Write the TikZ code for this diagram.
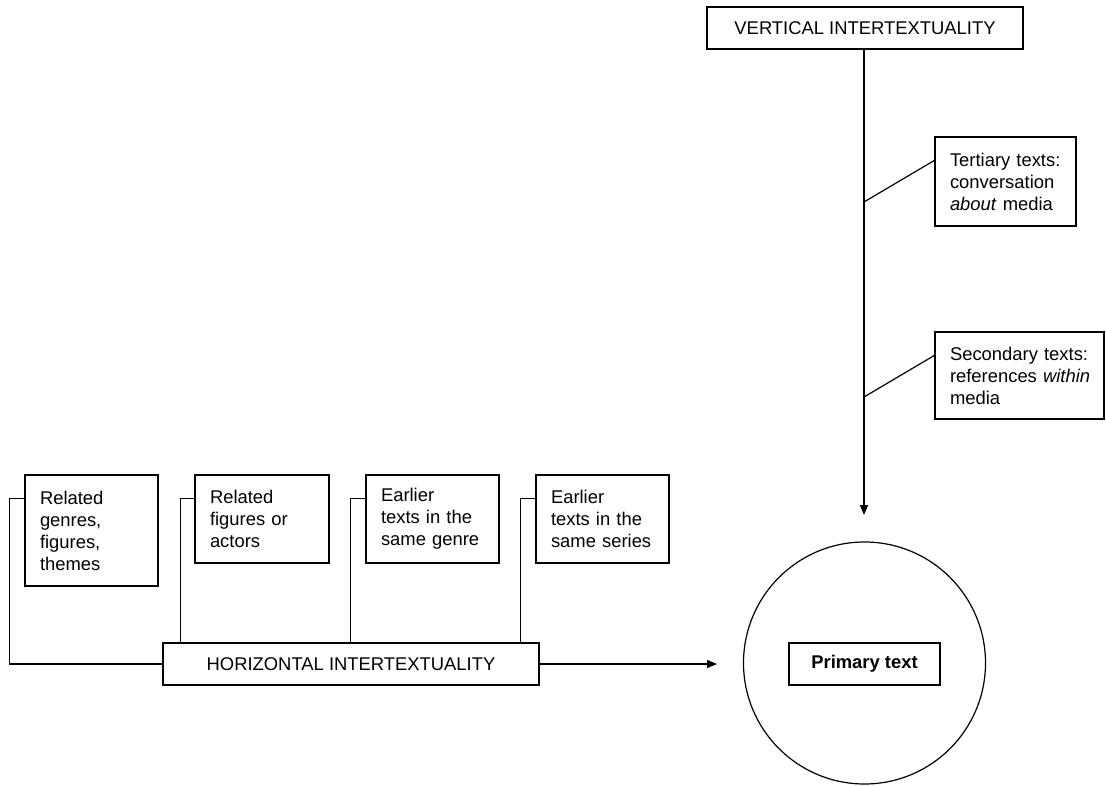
\documentclass[tikz,border=0pt]{standalone}
\usepackage{fontspec}
\setmainfont{Liberation Sans}
\usetikzlibrary{arrows.meta,calc}
\begin{document}
\begin{tikzpicture}[x=1pt,y=-1pt,line width=1.2pt,
  txt/.style={font=\fontsize{18.4}{22}\selectfont},
  sidebox/.style={draw,rectangle,txt,align=left,inner xsep=15pt,inner ysep=0pt},
  titlebox/.style={draw,rectangle,txt,align=center,inner sep=0pt},
  arr/.style={-{Triangle[length=10pt,width=8pt]}}]
\useasboundingbox (0,0) rectangle (1106,786);
% left boxes
\node[sidebox,text width=103pt,minimum height=111pt] (b1) at (91.5,530.5) {Related\\genres,\\figures,\\themes};
\node[sidebox,text width=104pt,minimum height=88pt] (b2) at (262,519) {Related\\figures or\\actors};
\node[sidebox,text width=103pt,minimum height=88pt] (b3) at (432.5,519) {Earlier\\texts in the\\same genre};
\node[sidebox,text width=103pt,minimum height=88pt] (b4) at (602.5,519) {Earlier\\texts in the\\same series};
\node[titlebox,minimum width=376pt,minimum height=42pt] (h) at (351,664) {HORIZONTAL INTERTEXTUALITY};
% right side
\node[titlebox,minimum width=316pt,minimum height=42pt] (v) at (865,28) {VERTICAL INTERTEXTUALITY};
\node[sidebox,text width=111pt,minimum height=89pt] (t) at (1005.5,181.5) {\mbox{Tertiary texts:}\\conversation\\\mbox{\textit{about} media}};
\node[sidebox,text width=139pt,minimum height=87pt] (s) at (1019.5,375.5) {\mbox{Secondary texts:}\\\mbox{references \textit{within}}\\media};
\node[draw,circle,minimum size=242pt,inner sep=0pt] (c) at (864.5,663) {};
\node[titlebox,minimum width=151pt,minimum height=42pt,font=\fontsize{18.4}{22}\selectfont\bfseries] (p) at (864.5,664) {Primary text};
% coordinates
\coordinate (vend) at (864,515);
\coordinate (hend) at (717,664);
\coordinate (tj) at (864,202);
\coordinate (sj) at (864,397);
% connectors
\draw ($(b1.north west)+(0,24)$) -- ++(-15,0) |- (h.west);
\draw ($(b2.north west)+(0,24)$) -| ($(h.north west)+(18,0)$);
\draw ($(b3.north west)+(0,24)$) -| ($(h.north west)+(188,0)$);
\draw ($(b4.north west)+(0,24)$) -| ($(h.north west)+(358,0)$);
\draw[arr] (h.east) -- (hend);
\draw[arr] (v.south -| vend) -- (vend);
\draw (tj) -- ($(t.north west)+(0,24)$);
\draw (sj) -- ($(s.north west)+(0,24)$);
\end{tikzpicture}
\end{document}
